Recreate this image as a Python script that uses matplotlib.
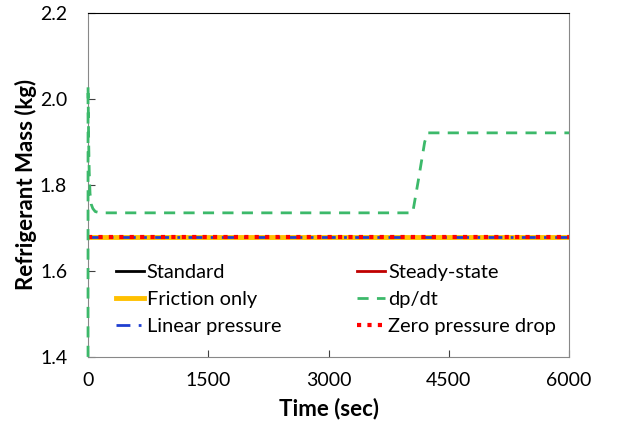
import matplotlib.pyplot as plt

plt.rcParams['font.family'] = ['Lato', 'DejaVu Sans']

# Dữ liệu
t_flat = [0, 6000]
m_standard = [1.678, 1.678]
m_steady = [1.678, 1.678]
m_friction = [1.678, 1.678]
m_linear = [1.678, 1.678]
m_zero = [1.678, 1.678]

t_dpdt = [0, 0, 3, 8, 15, 25, 40, 60, 90, 150, 4050, 4120, 4200, 4240, 6000]
m_dpdt = [1.40, 2.03, 1.98, 1.90, 1.83, 1.78, 1.755, 1.745, 1.738, 1.735,
          1.735, 1.81, 1.90, 1.921, 1.921]

fig = plt.figure(figsize=(6.23, 4.30), dpi=100)
ax = fig.add_axes([0.1413, 0.17, 0.772, 0.80])

ax.plot(t_flat, m_standard, color='black', lw=2, label='Standard')
ax.plot(t_flat, m_steady, color='#C00000', lw=2, label='Steady-state')
ax.plot(t_flat, m_friction, color='#FFC000', lw=3.5, label='Friction only')
ax.plot(t_dpdt, m_dpdt, color='#3CB96A', lw=2, dashes=(4, 3), label='dp/dt',
        zorder=3, clip_on=False)
ax.plot(t_flat, m_linear, color='#1F3FD0', lw=2, dashes=(5, 3, 1, 3), label='Linear pressure')
ax.plot(t_flat, m_zero, color='red', lw=3, linestyle=(0, (1, 1.5)), label='Zero pressure drop')

ax.set_xlim(0, 6000)
ax.set_ylim(1.4, 2.2)
ax.set_xticks([0, 1500, 3000, 4500, 6000])
ax.set_yticks([1.4, 1.6, 1.8, 2.0, 2.2])
ax.set_yticklabels(['1.4', '1.6', '1.8', '2.0', '2.2'])
ax.tick_params(direction='in', labelsize=14, length=5, color='#404040')
ax.tick_params(axis='y', pad=15)
ax.tick_params(axis='x', pad=11)

for s in ['left', 'bottom', 'right']:
    ax.spines[s].set_color('#888888')
ax.spines['top'].set_color('black')

ax.set_xlabel('Time (sec)', fontsize=16, fontweight='bold', labelpad=6)
ax.set_ylabel('Refrigerant Mass (kg)', fontsize=16, fontweight='bold', labelpad=2)

# Chú thích 2 cột, không khung
h, l = ax.get_legend_handles_labels()
hd = dict(zip(l, h))
col1 = ['Standard', 'Friction only', 'Linear pressure']
col2 = ['Steady-state', 'dp/dt', 'Zero pressure drop']
labs = col1 + col2
ax.legend([hd[x] for x in labs], labs, ncol=2, frameon=False, loc='lower left',
          bbox_to_anchor=(0.02, 0.011), fontsize=14.4, handlelength=1.4,
          handletextpad=0.15, columnspacing=3.8, labelspacing=0.5)

fig.savefig('out.png', dpi=100)
